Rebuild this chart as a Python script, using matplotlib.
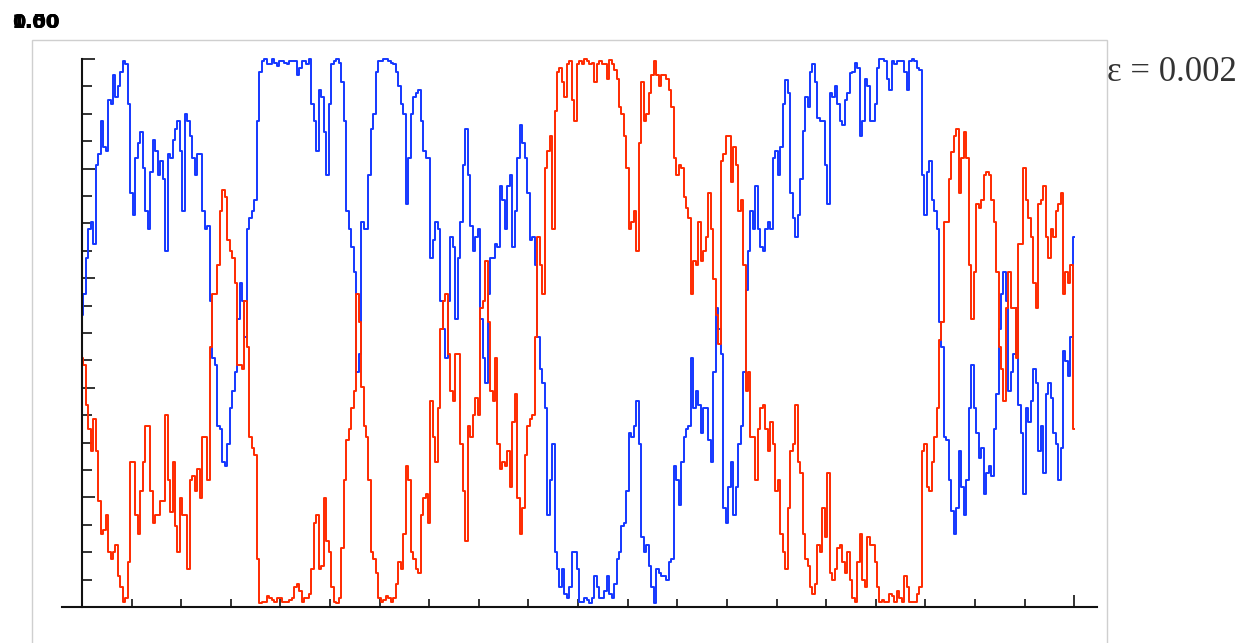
import matplotlib
matplotlib.use("Agg")
import matplotlib.pyplot as plt
import numpy as np
from matplotlib.patches import Rectangle

# values read every 0.1 time units (t = 0 .. 20) ...
blue_step = [0.533, 0.637, 0.703, 0.807, 0.886, 0.833, 0.918, 0.931, 0.977, 0.990,
             0.755, 0.820, 0.866, 0.722, 0.794, 0.833, 0.814, 0.650, 0.820, 0.873,
             0.833, 0.899, 0.859, 0.788, 0.827, 0.690, 0.559, 0.441, 0.324, 0.258,
             0.363, 0.428, 0.592, 0.493,
             0.709, 0.742, 0.977, 1.0, 0.990, 0.993, 0.997, 0.993, 0.997, 0.997,
             0.984, 0.997, 1.0, 0.886, 0.944, 0.866, 0.918, 0.997, 0.993, 0.886,
             0.690, 0.611, 0.461, 0.690, 0.788, 0.899, 0.997, 1.0, 0.997, 0.990,
             0.951, 0.899, 0.820,
             0.931, 0.944, 0.833, 0.820, 0.670, 0.690, 0.507, 0.559, 0.657, 0.637,
             0.807, 0.788, 0.650, 0.690, 0.454, 0.572, 0.637, 0.657, 0.742, 0.768,
             0.657, 0.820, 0.846, 0.755, 0.676, 0.493, 0.408, 0.167, 0.297, 0.069,
             0.069, 0.016, 0.101, 0.069,
             0.010, 0.013, 0.016, 0.036, 0.016, 0.056, 0.016, 0.088, 0.147, 0.212,
             0.310, 0.376, 0.127, 0.114, 0.036, 0.069, 0.056, 0.049, 0.088, 0.232,
             0.265, 0.324, 0.454, 0.395, 0.317, 0.363, 0.265, 0.546, 0.461, 0.154,
             0.265, 0.219, 0.330,
             0.578, 0.722, 0.768, 0.657, 0.690, 0.690, 0.833, 0.840, 0.961, 0.755,
             0.676, 0.781, 0.931, 0.977, 0.958, 0.886, 0.807, 0.938, 0.951, 0.886,
             0.925, 0.974, 0.993, 0.859, 0.964, 0.886, 0.918, 1.0, 0.997, 0.944,
             0.990, 0.997, 0.977, 0.997,
             0.997, 0.980, 0.716, 0.814, 0.722, 0.520, 0.310, 0.232, 0.134, 0.284,
             0.167, 0.363, 0.363, 0.271, 0.206, 0.258, 0.324, 0.507, 0.611, 0.395,
             0.461, 0.369, 0.206, 0.337, 0.435, 0.284, 0.245, 0.408, 0.317, 0.232,
             0.467, 0.422, 0.676]

# ... and halfway between those
blue_half = [0.572, 0.690, 0.663, 0.827, 0.840, 0.925, 0.971, 0.951, 0.997, 0.918,
             0.716, 0.846, 0.801, 0.690, 0.853, 0.788, 0.781, 0.827, 0.853, 0.886,
             0.722, 0.886, 0.820, 0.827, 0.722, 0.696, 0.454, 0.330, 0.265, 0.297,
             0.395, 0.526, 0.559,
             0.690, 0.722, 0.886, 0.997, 0.990, 1.0, 0.987, 0.997, 0.990, 0.997,
             0.971, 0.997, 0.990, 0.918, 0.833, 0.931, 0.788, 0.990, 1.0, 0.958,
             0.722, 0.657, 0.428, 0.703, 0.690, 0.873, 0.977, 0.997, 1.0, 0.993,
             0.977, 0.918, 0.735,
             0.899, 0.938, 0.886, 0.820, 0.637, 0.703, 0.559, 0.454, 0.676, 0.526,
             0.703, 0.873, 0.696, 0.676, 0.526, 0.408, 0.637, 0.663, 0.768, 0.690,
             0.788, 0.722, 0.879, 0.820, 0.670, 0.624, 0.435, 0.363, 0.232, 0.101,
             0.036, 0.023, 0.036, 0.101,
             0.010, 0.016, 0.007, 0.056, 0.016, 0.029, 0.023, 0.042, 0.101, 0.154,
             0.317, 0.330, 0.297, 0.101, 0.075, 0.007, 0.062, 0.056, 0.082, 0.258,
             0.186, 0.310, 0.330, 0.363, 0.369, 0.363, 0.304, 0.428, 0.507, 0.180,
             0.219, 0.167, 0.297,
             0.428, 0.650, 0.690, 0.690, 0.650, 0.703, 0.820, 0.788, 0.918, 0.938,
             0.709, 0.716, 0.869, 0.912, 0.990, 0.892, 0.886, 0.735, 0.931, 0.918,
             0.879, 0.938, 0.977, 0.984, 0.886, 0.951, 0.886, 0.984, 1.0, 0.964,
             0.997, 0.997, 0.997, 0.944,
             1.0, 0.984, 0.788, 0.794, 0.742, 0.690, 0.474, 0.304, 0.176, 0.180,
             0.219, 0.232, 0.441, 0.317, 0.291, 0.245, 0.239, 0.389, 0.572, 0.559,
             0.428, 0.546, 0.317, 0.363, 0.376, 0.408, 0.330, 0.389, 0.382, 0.297,
             0.291, 0.448, 0.493]

red_step = [0.454, 0.369, 0.284, 0.284, 0.134, 0.167, 0.088, 0.114, 0.036, 0.016,
            0.265, 0.167, 0.212, 0.330, 0.212, 0.167, 0.193, 0.350, 0.173, 0.147,
            0.199, 0.167, 0.232, 0.212, 0.199, 0.310, 0.474, 0.572, 0.722, 0.748,
            0.650, 0.592, 0.441, 0.559,
            0.310, 0.278, 0.007, 0.010, 0.016, 0.010, 0.016, 0.010, 0.013, 0.036,
            0.029, 0.016, 0.023, 0.154, 0.069, 0.199, 0.101, 0.010, 0.016, 0.232,
            0.324, 0.395, 0.520, 0.330, 0.232, 0.088, 0.016, 0.013, 0.016, 0.016,
            0.082, 0.134, 0.232,
            0.088, 0.062, 0.199, 0.154, 0.310, 0.363, 0.559, 0.461, 0.376, 0.461,
            0.212, 0.330, 0.350, 0.350, 0.559, 0.520, 0.376, 0.297, 0.265, 0.284,
            0.337, 0.199, 0.180, 0.330, 0.350, 0.676, 0.572, 0.833, 0.690, 0.977,
            0.958, 0.990, 0.925, 0.990,
            0.990, 0.997, 0.993, 0.990, 0.990, 0.964, 0.990, 0.964, 0.899, 0.801,
            0.703, 0.650, 0.958, 0.899, 0.971, 0.971, 0.971, 0.964, 0.912, 0.788,
            0.801, 0.729, 0.572, 0.624, 0.631, 0.676, 0.690, 0.533, 0.814, 0.859,
            0.775, 0.807, 0.742,
            0.395, 0.310, 0.232, 0.363, 0.324, 0.337, 0.212, 0.134, 0.069, 0.284,
            0.369, 0.245, 0.088, 0.036, 0.042, 0.101, 0.127, 0.062, 0.069, 0.114,
            0.062, 0.049, 0.010, 0.134, 0.036, 0.114, 0.082, 0.010, 0.010, 0.023,
            0.010, 0.016, 0.056, 0.010,
            0.010, 0.036, 0.297, 0.212, 0.310, 0.487, 0.703, 0.781, 0.859, 0.755,
            0.866, 0.624, 0.611, 0.729, 0.788, 0.788, 0.703, 0.474, 0.376, 0.611,
            0.546, 0.663, 0.801, 0.709, 0.592, 0.735, 0.768, 0.637, 0.676, 0.735,
            0.572, 0.592, 0.324]

red_half = [0.441, 0.324, 0.343, 0.193, 0.141, 0.101, 0.101, 0.056, 0.010, 0.082,
            0.265, 0.134, 0.265, 0.330, 0.154, 0.167, 0.193, 0.232, 0.265, 0.101,
            0.167, 0.069, 0.239, 0.252, 0.310, 0.232, 0.572, 0.624, 0.761, 0.670,
            0.637, 0.441, 0.435,
            0.474, 0.291, 0.088, 0.010, 0.020, 0.013, 0.016, 0.010, 0.010, 0.016,
            0.042, 0.010, 0.016, 0.069, 0.167, 0.075, 0.121, 0.036, 0.007, 0.108,
            0.304, 0.363, 0.572, 0.402, 0.310, 0.101, 0.062, 0.010, 0.020, 0.010,
            0.042, 0.069, 0.258,
            0.101, 0.069, 0.167, 0.206, 0.376, 0.265, 0.507, 0.572, 0.395, 0.461,
            0.297, 0.121, 0.310, 0.382, 0.546, 0.631, 0.395, 0.454, 0.252, 0.258,
            0.219, 0.389, 0.134, 0.278, 0.343, 0.493, 0.624, 0.801, 0.859, 0.905,
            0.984, 0.931, 0.997, 0.886,
            0.997, 1.0, 0.990, 0.958, 0.997, 0.990, 0.998, 0.980, 0.912, 0.859,
            0.690, 0.722, 0.846, 0.886, 0.938, 0.997, 0.951, 0.971, 0.944, 0.820,
            0.807, 0.748, 0.709, 0.631, 0.703, 0.650, 0.755, 0.598, 0.480, 0.827,
            0.859, 0.840, 0.722,
            0.624, 0.428, 0.310, 0.324, 0.369, 0.284, 0.297, 0.232, 0.101, 0.180,
            0.297, 0.265, 0.134, 0.075, 0.023, 0.114, 0.180, 0.245, 0.049, 0.108,
            0.082, 0.101, 0.016, 0.082, 0.049, 0.127, 0.114, 0.036, 0.013, 0.010,
            0.020, 0.029, 0.010, 0.036,
            0.010, 0.023, 0.284, 0.219, 0.265, 0.363, 0.520, 0.703, 0.830, 0.873,
            0.820, 0.820, 0.526, 0.735, 0.742, 0.794, 0.742, 0.611, 0.435, 0.546,
            0.546, 0.454, 0.663, 0.742, 0.676, 0.546, 0.742, 0.676, 0.690, 0.722,
            0.755, 0.611, 0.624]

t = np.linspace(0, 20, 401)
blue = np.empty(401)
blue[0::2] = blue_step
blue[1::2] = blue_half
red = np.empty(401)
red[0::2] = red_step
red[1::2] = red_half

W, H = 1246, 643
fig = plt.figure(figsize=(W / 100, H / 100), dpi=100)

# grey frame of the graphic box
fig.patches.append(Rectangle((32 / W, -0.05), (1107 - 32) / W, (643 - 40) / H + 0.05,
                             transform=fig.transFigure, fill=False,
                             edgecolor="#cfcfcf", linewidth=1.0))

ax = fig.add_axes([62 / W, (643 - 607) / H, (1097 - 62) / W, 548 / H])
ax.plot(t, blue, color="#1437ff", lw=1.4, drawstyle="steps-mid", clip_on=False)
ax.plot(t, red, color="#ff2a00", lw=1.4, drawstyle="steps-mid", clip_on=False)

ax.set_xlim(-0.403, 20.46)
ax.set_ylim(0, 1)
ax.spines["top"].set_visible(False)
ax.spines["right"].set_visible(False)
ax.spines["left"].set_position(("data", 0))
for s in ("left", "bottom"):
    ax.spines[s].set_linewidth(1.5)
    ax.spines[s].set_color("#111111")

ax.set_xticks([20])
ax.set_xticks(np.arange(1, 20), minor=True)
ax.set_yticks(np.arange(0, 1.01, 0.2))
ax.set_yticks(np.arange(0, 1.01, 0.05), minor=True)
ax.tick_params(which="both", direction="in", labelbottom=False, labelleft=False,
               color="#111111", width=1.2)
ax.tick_params(axis="x", which="major", length=9)
ax.tick_params(axis="x", which="minor", length=5.5)
ax.tick_params(axis="y", which="major", length=9)
ax.tick_params(axis="y", which="minor", length=7)

fig.text(1107 / W, (643 - 81) / H, "ε = 0.002", family="Liberation Serif",
         fontsize=25, color="#333333", ha="left", va="baseline")

# overlapped tick labels at the top left
for s in ("0.00", "1.00", "0.50"):
    fig.text(12 / W, (643 - 28) / H, s, fontsize=14, fontweight="bold",
             color="black", ha="left", va="baseline")

fig.savefig("out.png", dpi=100)
